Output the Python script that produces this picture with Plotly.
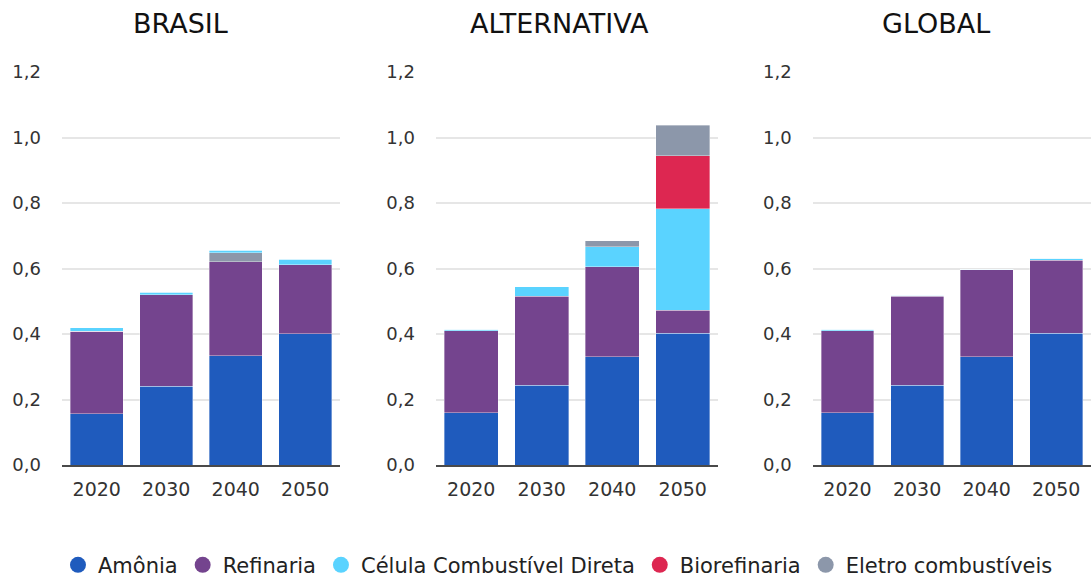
import plotly.graph_objects as go

categories = ["2020", "2030", "2040", "2050"]
panels = ["BRASIL", "ALTERNATIVA", "GLOBAL"]
series_names = ["Amônia", "Refinaria", "Célula Combustível Direta", "Biorefinaria", "Eletro combustíveis"]
colors = ["#1f5bbd", "#74448e", "#5ad3ff", "#dd2751", "#8c97aa"]

brasil_amonia = [0.157, 0.240, 0.333, 0.401]
brasil_refinaria = [0.252, 0.280, 0.288, 0.211]
brasil_celula = [0.010, 0.008, 0.007, 0.017]
brasil_bio = [0.0, 0.0, 0.0, 0.0]
brasil_eletro = [0.0, 0.0, 0.027, 0.0]

alt_amonia = [0.159, 0.244, 0.331, 0.402]
alt_refinaria = [0.251, 0.272, 0.274, 0.070]
alt_celula = [0.005, 0.028, 0.061, 0.310]
alt_bio = [0.0, 0.0, 0.0, 0.163]
alt_eletro = [0.0, 0.0, 0.019, 0.092]

global_amonia = [0.159, 0.244, 0.331, 0.402]
global_refinaria = [0.251, 0.272, 0.265, 0.223]
global_celula = [0.004, 0.002, 0.002, 0.007]
global_bio = [0.0, 0.0, 0.0, 0.0]
global_eletro = [0.0, 0.0, 0.0, 0.0]

y_ticks = [0.0, 0.2, 0.4, 0.6, 0.8, 1.0, 1.2]
y_ticktext = ["0,0", "0,2", "0,4", "0,6", "0,8", "1,0", "1,2"]

panel_data = [
    [brasil_amonia, brasil_refinaria, brasil_celula, brasil_bio, brasil_eletro],
    [alt_amonia, alt_refinaria, alt_celula, alt_bio, alt_eletro],
    [global_amonia, global_refinaria, global_celula, global_bio, global_eletro],
]
# stacking order per panel (indices into series)
stack_orders = [[0, 1, 4, 2, 3], [0, 1, 2, 3, 4], [0, 1, 2, 3, 4]]

FONT = "'DejaVu Sans', sans-serif"
fig = go.Figure()

for p, (data, order) in enumerate(zip(panel_data, stack_orders)):
    xa = "x" if p == 0 else f"x{p+1}"
    ya = "y" if p == 0 else f"y{p+1}"
    for s in order:
        fig.add_trace(go.Bar(
            x=categories, y=data[s], name=series_names[s],
            marker=dict(color=colors[s], line=dict(width=0.6, color="rgba(255,255,255,0.6)")),
            xaxis=xa, yaxis=ya, showlegend=False,
            hovertemplate=series_names[s] + ": %{y:.2f}<extra></extra>",
        ))

for s in range(5):
    fig.add_trace(go.Scatter(
        x=[None], y=[None], mode="markers", name=series_names[s],
        marker=dict(color=colors[s], size=16, symbol="circle"),
        xaxis="x", yaxis="y", showlegend=True,
    ))

L = 62
W = 1091 - L
domains = [[0, 278 / W], [(436 - L) / W, (718 - L) / W], [(812.7 - L) / W, 1.0]]

layout = dict(
    width=1091, height=577,
    margin=dict(l=L, r=0, t=72, b=112, autoexpand=False),
    barmode="stack", bargap=0.24,
    paper_bgcolor="white", plot_bgcolor="white",
    font=dict(family=FONT, color="#333333", size=18),
    legend=dict(orientation="h", x=0.482, xanchor="center", y=-0.255, yanchor="middle",
                font=dict(size=21, color="#222222"), itemwidth=30, traceorder="normal"),
    showlegend=True,
)

for p in range(3):
    xk = "xaxis" if p == 0 else f"xaxis{p+1}"
    yk = "yaxis" if p == 0 else f"yaxis{p+1}"
    layout[xk] = dict(domain=domains[p], anchor="y" if p == 0 else f"y{p+1}",
                      type="category", showline=True, linecolor="#4a4a4a", linewidth=2,
                      showgrid=False, ticks="", ticklabelstandoff=6,
                      tickfont=dict(size=19, color="#333333"), fixedrange=True)
    layout[yk] = dict(anchor="x" if p == 0 else f"x{p+1}", range=[0, 1.2],
                      tickvals=y_ticks, ticktext=y_ticktext, showgrid=True,
                      gridcolor="#e6e6e6", gridwidth=2, zeroline=False, showline=False,
                      ticks="", ticklabelstandoff=20,
                      tickfont=dict(size=18, color="#333333"), fixedrange=True)

fig.update_layout(**layout)

title_x = [(180 - L) / W, (559 - L) / W, (936 - L) / W]
for p, t in enumerate(panels):
    fig.add_annotation(text=t, x=title_x[p], y=1 + (72.5 - 24) / 392.5, xref="paper", yref="paper",
                       showarrow=False, xanchor="center", yanchor="middle",
                       font=dict(size=27, color="#111111", family=FONT))

fig.write_html("out.html", config={"displayModeBar": False},
               post_script="document.body.style.margin='0';")
